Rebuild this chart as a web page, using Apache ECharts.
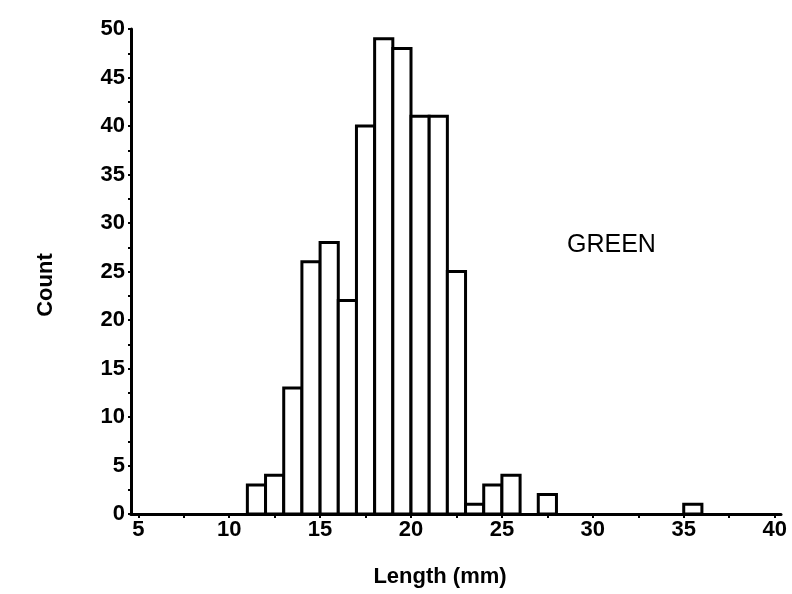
<!DOCTYPE html>
<html>
<head>
<meta charset="utf-8">
<script src="https://cdn.jsdelivr.net/npm/echarts@6/dist/echarts.min.js"></script>
<style>
html,body{margin:0;padding:0;background:#fff;}
#chart{width:792px;height:594px;}
</style>
</head>
<body>
<div id="chart"></div>
<script>
// Histogram bins (lower/upper edge, mm) and counts
const binLow = [11, 12, 13, 14, 15, 16, 17, 18, 19, 20, 21, 22, 23, 24, 25, 27, 35];
const binHigh = [12, 13, 14, 15, 16, 17, 18, 19, 20, 21, 22, 23, 24, 25, 26, 28, 36];
const counts = [3, 4, 13, 26, 28, 22, 40, 49, 48, 41, 41, 25, 1, 3, 4, 2, 1];

const xTickLabels = [5, 10, 15, 20, 25, 30, 35, 40];
const xTickMarks = [5, 7.5, 10, 12.5, 15, 17.5, 20, 22.5, 25, 27.5, 30, 32.5, 35, 37.5, 40];
const yTickLabels = [0, 5, 10, 15, 20, 25, 30, 35, 40, 45, 50];
const yTickMarks = [0, 2.5, 5, 7.5, 10, 12.5, 15, 17.5, 20, 22.5, 25, 27.5, 30, 32.5, 35, 37.5, 40, 42.5, 45, 47.5, 50];

const seriesLabel = 'GREEN';
const xTitle = 'Length (mm)';
const yTitle = 'Count';

const data = binLow.map((lo, i) => [lo, binHigh[i], counts[i]]);

const labelFont = {
  color: '#000',
  fontFamily: '"Liberation Sans", Arial, sans-serif',
  fontWeight: 'bold',
  fontSize: 22
};

const chart = echarts.init(document.getElementById('chart'), null, {renderer: 'canvas'});
chart.setOption({
  animation: false,
  backgroundColor: '#fff',
  grid: {left: 131, right: 11, top: 29, bottom: 80, containLabel: false},
  xAxis: {
    type: 'value',
    min: 4.6,
    max: 40.35,
    axisLine: {lineStyle: {color: '#000', width: 3}},
    axisTick: {show: true, length: 4, lineStyle: {color: '#000', width: 2}, customValues: xTickMarks},
    axisLabel: Object.assign({margin: 5, customValues: xTickLabels}, labelFont),
    splitLine: {show: false}
  },
  yAxis: {
    type: 'value',
    min: 0,
    max: 50,
    axisLine: {show: true, lineStyle: {color: '#000', width: 3}},
    axisTick: {show: true, length: 3, lineStyle: {color: '#000', width: 2}, customValues: yTickMarks},
    axisLabel: Object.assign({margin: 6, customValues: yTickLabels}, labelFont),
    splitLine: {show: false}
  },
  graphic: [{
    type: 'text',
    left: 567,
    top: 233,
    style: {text: seriesLabel, fill: '#000', font: '25px "Liberation Sans", Arial, sans-serif'}
  }, {
    type: 'text',
    x: 440,
    y: 577,
    style: {text: xTitle, fill: '#000', align: 'center', verticalAlign: 'middle',
      font: 'bold 22px "Liberation Sans", Arial, sans-serif'}
  }, {
    type: 'text',
    x: 46,
    y: 285,
    rotation: Math.PI / 2,
    style: {text: yTitle, fill: '#000', align: 'center', verticalAlign: 'middle',
      font: 'bold 22px "Liberation Sans", Arial, sans-serif'}
  }],
  series: [{
    type: 'custom',
    data: data,
    encode: {x: [0, 1], y: 2},
    renderItem: function (params, api) {
      const lo = api.value(0), hi = api.value(1), c = api.value(2);
      const p0 = api.coord([lo, 0]);
      const p1 = api.coord([hi, c]);
      return {
        type: 'rect',
        shape: {x: p0[0], y: p1[1], width: p1[0] - p0[0], height: p0[1] - p1[1]},
        style: {fill: '#fff', stroke: '#000', lineWidth: 3}
      };
    }
  }]
});
</script>
</body>
</html>
